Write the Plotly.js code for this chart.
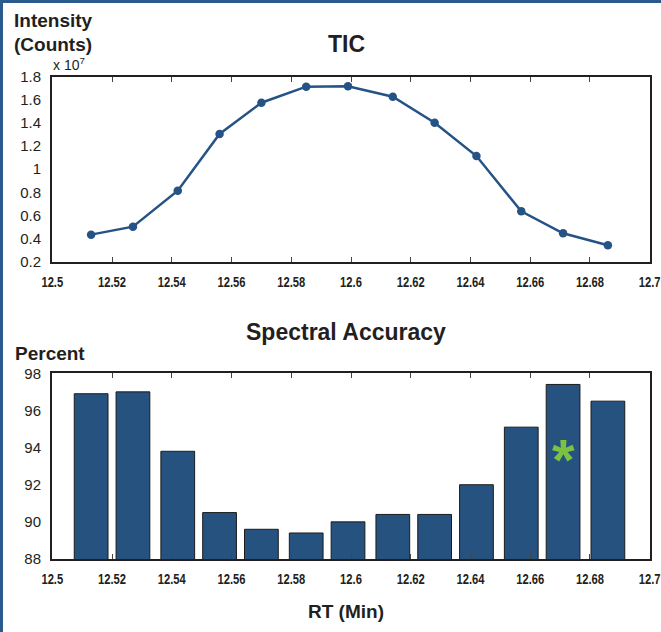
<!DOCTYPE html>
<html><head><meta charset="utf-8">
<script src="https://cdn.plot.ly/plotly-3.0.1.min.js"></script>
<style>html,body{margin:0;padding:0;background:#fff}#frame{position:absolute;left:0;top:0;width:661px;height:632px;box-sizing:border-box;border-top:3px solid #2a5a8e;border-left:3px solid #2a5a8e;pointer-events:none}#chart{position:absolute;left:0;top:0;width:661px;height:632px}</style>
</head><body><div id="chart"></div><div id="frame"></div>
<script>
// Retention times (min)
var rt = [12.513, 12.527, 12.542, 12.556, 12.570, 12.585, 12.599, 12.614, 12.628, 12.642, 12.657, 12.671, 12.686];
// TIC intensity (x 10^7 counts)
var ticIntensity = [0.434, 0.503, 0.814, 1.305, 1.575, 1.714, 1.717, 1.627, 1.402, 1.114, 0.636, 0.446, 0.342];
// Spectral accuracy (percent)
var spectralAccuracy = [96.9, 97.0, 93.8, 90.5, 89.6, 89.4, 90.0, 90.4, 90.4, 92.0, 95.1, 97.4, 96.5];
// Highlighted best scan
var bestRT = [12.671];
var bestMarkY = [93.8];
// Tick labels
var xTickVals = [12.5, 12.52, 12.54, 12.56, 12.58, 12.6, 12.62, 12.64, 12.66, 12.68, 12.7];
var xTickText = ["12.5", "12.52", "12.54", "12.56", "12.58", "12.6", "12.62", "12.64", "12.66", "12.68", "12.7"];
var ticTickVals = [0.2, 0.4, 0.6, 0.8, 1, 1.2, 1.4, 1.6, 1.8];
var ticTickText = ["0.2", "0.4", "0.6", "0.8", "1", "1.2", "1.4", "1.6", "1.8"];
var accTickVals = [88, 90, 92, 94, 96, 98];
var accTickText = ["88", "90", "92", "94", "96", "98"];

var W = 661, H = 632, L = 52, R = 11;
function px(x){ return (x - L) / (W - L - R); }
function py(y){ return 1 - y / H; }

var ink = '#231f20';
var blue = '#265386';
var sans = 'Liberation Sans, Arial, Helvetica, sans-serif';

var traces = [
  {type: 'scatter', mode: 'lines+markers', x: rt, y: ticIntensity, xaxis: 'x', yaxis: 'y',
   line: {color: blue, width: 2.5}, marker: {color: blue, size: 8.5}, hoverinfo: 'skip'},
  {type: 'bar', x: rt, y: spectralAccuracy, xaxis: 'x2', yaxis: 'y2', width: 0.0113,
   marker: {color: '#265280', line: {color: '#1b1b1b', width: 1}}, hoverinfo: 'skip'}
];

function xax(anchor, standoff){
  return {domain: [0, 1], anchor: anchor, range: [12.4999, 12.7001], tickmode: 'array', tickvals: xTickVals, ticktext: xTickText,
    ticks: 'inside', ticklen: 5, tickwidth: 1, tickcolor: '#444', mirror: 'ticks', showline: true, linecolor: ink, linewidth: 2,
    showgrid: false, zeroline: false, tickfont: {family: sans, size: 14, color: ink}, ticklabelstandoff: standoff,
    ticklabeloverflow: 'allow', fixedrange: true};
}
var layout = {
  width: W, height: H, margin: {l: L, r: R, t: 0, b: 0}, showlegend: false,
  paper_bgcolor: '#fff', plot_bgcolor: '#fff',
  xaxis: xax('y', 7),
  yaxis: {domain: [py(261.7), py(76.7)], anchor: 'x', range: [0.2, 1.8], tickmode: 'array', tickvals: ticTickVals, ticktext: ticTickText,
    ticks: '', showline: true, mirror: true, linecolor: ink, linewidth: 2, showgrid: false, zeroline: false,
    tickfont: {family: sans, size: 15, color: ink}, ticklabelstandoff: 6},
  yaxis3: {domain: [py(261.7), py(76.7)], anchor: 'x', overlaying: 'y', side: 'right', range: [0.2, 1.8], tickmode: 'array', tickvals: ticTickVals,
    ticks: 'inside', ticklen: 5, tickcolor: '#444', showticklabels: false, showline: false, showgrid: false, zeroline: false},
  xaxis2: xax('y2', 6),
  yaxis2: {domain: [py(559), py(373.3)], anchor: 'x2', range: [88, 98], tickmode: 'array',
    tickvals: accTickVals, ticktext: accTickText,
    ticks: '', showline: true, mirror: true, linecolor: ink, linewidth: 2, showgrid: false, zeroline: false,
    tickfont: {family: sans, size: 15, color: ink}, ticklabelstandoff: 6},
  yaxis4: {domain: [py(559), py(373.3)], anchor: 'x2', overlaying: 'y2', side: 'right', range: [88, 98], tickmode: 'array',
    tickvals: accTickVals,
    ticks: 'inside', ticklen: 5, tickcolor: '#444', showticklabels: false, showline: false, showgrid: false, zeroline: false},
  annotations: [
    {xref: 'paper', yref: 'paper', x: px(12), y: py(21), xanchor: 'left', yanchor: 'middle', align: 'left', showarrow: false,
     text: '<b>Intensity</b>', font: {family: sans, size: 19, color: ink}},
    {xref: 'paper', yref: 'paper', x: px(12), y: py(44), xanchor: 'left', yanchor: 'middle', align: 'left', showarrow: false,
     text: '<b>(Counts)</b>', font: {family: sans, size: 19, color: ink}},
    {xref: 'paper', yref: 'paper', x: px(51), y: py(75), xanchor: 'left', yanchor: 'bottom', showarrow: false,
     text: 'x 10<sup>7</sup>', font: {family: sans, size: 14, color: ink}},
    {xref: 'paper', yref: 'paper', x: px(346.7), y: py(44), xanchor: 'center', yanchor: 'middle', showarrow: false,
     text: '<b>TIC</b>', font: {family: sans, size: 23, color: ink}},
    {xref: 'paper', yref: 'paper', x: px(346), y: py(332), xanchor: 'center', yanchor: 'middle', showarrow: false,
     text: '<b>Spectral Accuracy</b>', font: {family: sans, size: 23, color: ink}},
    {xref: 'paper', yref: 'paper', x: px(13), y: py(353), xanchor: 'left', yanchor: 'middle', showarrow: false,
     text: '<b>Percent</b>', font: {family: sans, size: 19, color: ink}},
    {xref: 'paper', yref: 'paper', x: px(346), y: py(611), xanchor: 'center', yanchor: 'middle', showarrow: false,
     text: '<b>RT (Min)</b>', font: {family: sans, size: 19, color: ink}},
    {xref: 'x2', yref: 'y2', x: bestRT[0], y: bestMarkY[0], xanchor: 'center', yanchor: 'middle', yshift: -8, showarrow: false,
     text: '<b>*</b>', font: {family: sans, size: 58, color: '#7cc142'}}
  ]
};
Plotly.newPlot('chart', traces, layout, {staticPlot: true, displayModeBar: false}).then(function(gd){
  // condensed look for the x tick labels
  var texts = gd.querySelectorAll('.xtick text, .x2tick text');
  texts.forEach(function(t){
    var tr = t.getAttribute('transform') || '';
    t.setAttribute('transform', tr + ' scale(0.8,1)');
    t.style.fontWeight = '600';
  });
});
</script></body></html>
